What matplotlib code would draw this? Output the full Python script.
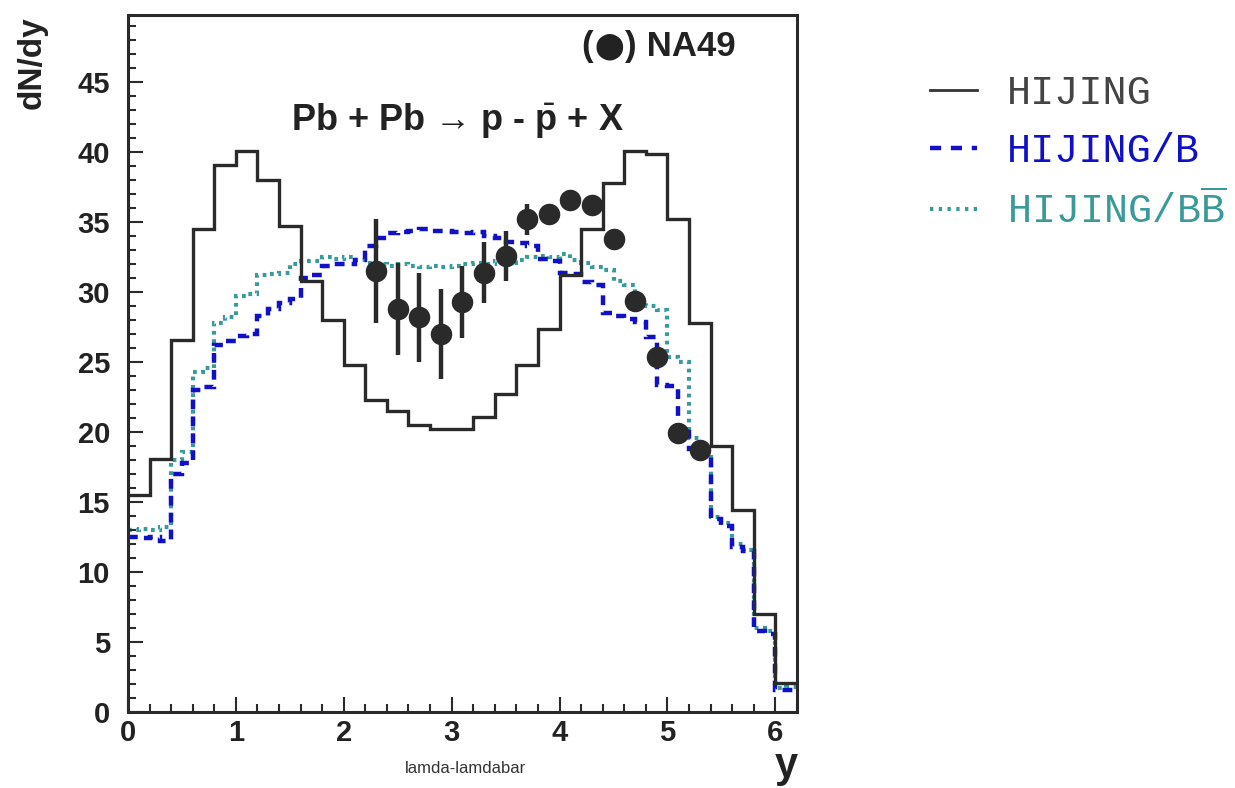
import numpy as np
import matplotlib
matplotlib.use("Agg")
import matplotlib.pyplot as plt
from matplotlib.ticker import MultipleLocator
from matplotlib.lines import Line2D

plt.rcParams['font.family'] = ['Liberation Sans', 'DejaVu Sans']
plt.rcParams['mathtext.fontset'] = 'custom'
plt.rcParams['mathtext.rm'] = 'Liberation Sans'
plt.rcParams['mathtext.bf'] = 'Liberation Sans:bold'
plt.rcParams['mathtext.tt'] = 'Liberation Mono'

# ---------------- data ----------------
# HIJING (solid), bins of 0.2 from 0 to 6.2
hijing_edges = np.linspace(0.0, 6.2, 32)
hijing = [15.5, 18.1, 26.6, 34.5, 39.1, 40.1, 38.0, 34.7, 30.8, 28.0,
          24.8, 22.3, 21.5, 20.5, 20.2, 20.2, 21.1, 22.7, 24.8, 27.4,
          31.2, 34.5, 37.8, 40.1, 39.9, 35.2, 27.8, 19.0, 14.4, 7.0, 2.1]

# HIJING/B (dashed) and HIJING/BBbar (dotted), bins of 0.1 from 0 to 6.2
fine_edges = np.linspace(0.0, 6.2, 63)
hijing_b = [12.5, 12.4, 12.5, 12.2, 17.0, 17.8, 23.0, 23.2, 26.2, 26.5,
            26.9, 27.0, 28.3, 28.8, 29.2, 29.5, 31.0, 31.2, 31.9, 32.0,
            32.0, 32.3, 33.3, 33.9, 34.2, 34.3, 34.4, 34.5, 34.4, 34.4,
            34.3, 34.2, 34.3, 34.0, 33.9, 33.6, 33.5, 33.3, 32.4, 32.2,
            31.4, 31.3, 30.7, 30.5, 28.5, 28.3, 28.1, 27.9, 26.8, 23.4,
            23.3, 20.0, 18.8, 18.4, 13.8, 13.3, 11.8, 11.5, 5.8, 5.6,
            1.6, 1.6]
hijing_bbbar = [13.0, 13.1, 13.0, 13.2, 18.0, 18.6, 24.3, 24.6, 27.8, 28.2,
                29.7, 29.9, 31.2, 31.3, 31.4, 32.0, 32.2, 32.2, 32.5, 32.4,
                32.5, 32.3, 32.1, 32.0, 31.9, 32.0, 31.9, 31.8, 31.9, 31.8,
                31.9, 32.0, 32.1, 32.0, 32.2, 32.1, 32.3, 32.5, 32.6, 32.5,
                32.7, 32.3, 32.1, 31.8, 31.6, 30.8, 30.5, 29.3, 29.0, 28.7,
                25.4, 25.0, 19.6, 18.6, 13.9, 13.5, 12.0, 11.6, 6.0, 5.8,
                1.7, 1.8]

# NA49 data points
na49_y_pos = [2.3, 2.5, 2.7, 2.9, 3.1, 3.3, 3.5, 3.7, 3.9, 4.1,
              4.3, 4.5, 4.7, 4.9, 5.1, 5.3]
na49_val = [31.5, 28.8, 28.2, 27.0, 29.3, 31.4, 32.6, 35.2, 35.6, 36.6,
            36.2, 33.8, 29.4, 25.4, 19.9, 18.7]
na49_err = [3.7, 3.3, 3.2, 3.2, 2.6, 2.2, 1.8, 1.1, 0.7, 0.4,
            0.4, 0.4, 0.4, 0.4, 0.4, 0.4]

x_ticks = [0, 1, 2, 3, 4, 5, 6]
y_ticks = [0, 5, 10, 15, 20, 25, 30, 35, 40, 45]

c_black = '#2a2a2a'
c_blue = '#1010c8'
c_teal = '#3a9a9a'

# ---------------- figure ----------------
fig = plt.figure(figsize=(12.35, 7.88), dpi=100)
ax = fig.add_axes([0.1036, 0.0964, 0.5417, 0.8846])

ax.stairs(hijing_bbbar, fine_edges, color=c_teal, lw=3.0,
          linestyle=(0, (0.9, 1.1)), baseline=None)
ax.stairs(hijing_b, fine_edges, color=c_blue, lw=3.2,
          linestyle=(0, (2.2, 1.6)), baseline=None)
ax.stairs(hijing, hijing_edges, color=c_black, lw=2.4, baseline=None)

ax.errorbar(na49_y_pos, na49_val, yerr=na49_err, fmt='o', ms=14.5,
            color=c_black, ecolor=c_black, elinewidth=3.2, capsize=0, zorder=5)

ax.set_xlim(0, 6.2)
ax.set_ylim(0, 49.8)
ax.set_xticks(x_ticks)
ax.set_yticks(y_ticks)
ax.xaxis.set_minor_locator(MultipleLocator(0.2))
ax.yaxis.set_minor_locator(MultipleLocator(1))
ax.tick_params(which='both', direction='in', top=False, right=False,
               width=1.5, color=c_black)
ax.tick_params(which='major', length=11)
ax.tick_params(which='minor', length=6)
ax.tick_params(axis='y', which='major', pad=13)
ax.tick_params(axis='x', which='major', pad=5)
for lab in ax.get_xticklabels() + ax.get_yticklabels():
    lab.set_fontsize(21)
    lab.set_fontweight('bold')
    lab.set_color('#222222')
for sp in ax.spines.values():
    sp.set_linewidth(2.2)
    sp.set_color(c_black)

# "(●) NA49" label built as a chain of texts
txt_kw = dict(fontsize=25, fontweight='bold', color='#222222')
t_open = ax.text(0.678, 0.955, '(', transform=ax.transAxes, ha='left',
                 va='center', **txt_kw)
t_dot = ax.annotate('\u2B24', xy=(1.0, 0.5), xycoords=t_open, ha='left',
                    va='center', fontsize=19, color='#222222',
                    xytext=(1, 0), textcoords='offset points')
t_close = ax.annotate(')', xy=(1.0, 0.5), xycoords=t_dot, ha='left',
                      va='center', xytext=(1, 0), textcoords='offset points',
                      **txt_kw)
ax.annotate(' NA49', xy=(1.0, 0.5), xycoords=t_close, ha='left',
            va='center', **txt_kw)

ax.text(0.492, 0.848, 'Pb + Pb \u2192 p - $\\bar{\\mathbf{p}}$ + X',
        transform=ax.transAxes, ha='center', va='center', fontsize=26,
        fontweight='bold', color='#222222')

fig.text(0.026, 0.92, 'dN/dy', rotation=90, ha='center', va='center',
         fontsize=24, fontweight='bold', color='#222222')
fig.text(0.637, 0.028, 'y', ha='center', va='center', fontsize=30,
         fontweight='bold', color='#222222')
fig.text(0.377, 0.025, 'lamda-lamdabar', ha='center', va='center',
         fontsize=12, color='#333333')

handles = [Line2D([], [], color='#333333', lw=2.0),
           Line2D([], [], color=c_blue, lw=3.2, linestyle=(0, (2.5, 2.2))),
           Line2D([], [], color=c_teal, lw=3.0, linestyle=(0, (0.8, 1.3)))]
labels = ['HIJING', 'HIJING/B', r'HIJING/B$\overline{\mathtt{B}}$']
leg = fig.legend(handles, labels, loc='upper left',
                 bbox_to_anchor=(0.724, 0.952), frameon=False,
                 prop={'family': 'Liberation Mono', 'size': 29},
                 handlelength=1.15, handletextpad=0.75, labelspacing=0.5,
                 labelcolor=['#444444', c_blue, c_teal])

fig.savefig('out.png', dpi=100)
